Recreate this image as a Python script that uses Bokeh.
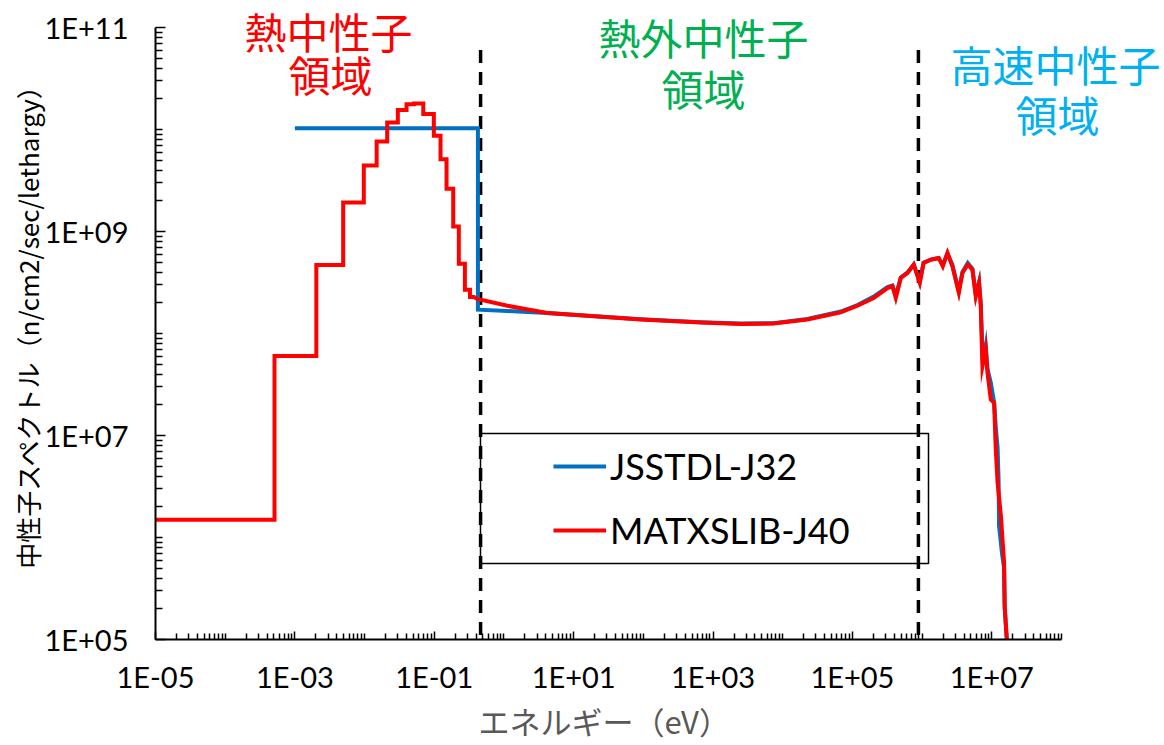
import math
from bokeh.plotting import figure
from bokeh.models import (FixedTicker, CustomJSTickFormatter, Label, Legend,
                          LegendItem, BoxAnnotation, Title)
from bokeh.embed import file_html
from bokeh.resources import INLINE

# ---------------- data ----------------
# MATXSLIB-J40 : thermal group structure (edges in eV) and group flux
red_step_edges = [1e-5, 5.1e-4, 2.03e-3, 4.93e-3, 9.75e-3, 1.49e-2, 2.11e-2, 3.0e-2,
                  4.0e-2, 5.1e-2, 6.95e-2, 9.86e-2, 0.123, 0.150, 0.187, 0.225,
                  0.275, 0.325, 0.37]
red_step_flux = [1.49e6, 6.0e7, 4.7e8, 1.92e9, 4.43e9, 7.6e9, 1.17e10, 1.55e10,
                 1.77e10, 1.80e10, 1.42e10, 8.69e9, 5.1e9, 2.62e9, 1.12e9, 4.83e8,
                 2.69e8, 2.28e8]
# MATXSLIB-J40 : epithermal / fast part
red_energy = [0.414, 1.12, 4.19, 91.4, 665, 2.49e3, 7.4e3, 2.26e4, 6.8e4, 1.18e5,
              2.02e5, 3.18e5, 3.75e5, 4.19e5, 4.94e5, 6.15e5, 7.58e5, 9.25e5, 1.05e6,
              1.33e6, 1.73e6, 1.98e6, 2.31e6, 2.72e6, 3.36e6, 3.79e6, 4.52e6, 5.27e6,
              5.89e6, 6.56e6, 6.94e6, 7.34e6, 8.19e6, 8.67e6, 9.67e6, 1.08e7, 1.14e7,
              1.21e7, 1.35e7, 1.50e7, 1.53e7, 1.68e7]
red_flux = [2.18e8, 1.87e8, 1.59e8, 1.37e8, 1.28e8, 1.24e8, 1.25e8, 1.37e8, 1.61e8,
            1.87e8, 2.23e8, 2.79e8, 2.9e8, 2.23e8, 3.5e8, 3.92e8, 4.72e8, 3.13e8,
            4.91e8, 5.28e8, 5.5e8, 4.55e8, 6.15e8, 4.55e8, 2.51e8, 3.92e8, 4.72e8,
            4.22e8, 2.31e8, 3.13e8, 1.85e8, 4.78e7, 6.97e7, 4.12e7, 2.25e7, 2.09e7,
            7.31e6, 3.45e6, 1.63e6, 5.69e5, 2.14e5, 7.9e4]

# JSSTDL-J32 : one thermal group, then epithermal / fast part
blue_step_edges = [1.0e-3, 0.423]
blue_step_flux = [1.03e10]
blue_energy = [0.423, 1.12, 4.19, 91.4, 665, 2.49e3, 7.4e3, 2.26e4, 6.8e4, 1.18e5,
               2.02e5, 3.18e5, 3.75e5, 4.19e5, 4.94e5, 6.15e5, 7.58e5, 9.25e5, 1.05e6,
               1.33e6, 1.73e6, 1.98e6, 2.31e6, 2.72e6, 3.36e6, 3.79e6, 4.52e6, 5.27e6,
               5.89e6, 6.56e6, 6.94e6, 7.45e6, 8.19e6, 8.67e6, 9.67e6, 1.08e7, 1.14e7,
               1.21e7, 1.25e7, 1.27e7, 1.40e7, 1.50e7, 1.53e7, 1.68e7]
blue_flux = [1.71e8, 1.66e8, 1.59e8, 1.38e8, 1.29e8, 1.25e8, 1.26e8, 1.39e8, 1.64e8,
             1.9e8, 2.3e8, 2.85e8, 2.95e8, 2.35e8, 3.55e8, 3.95e8, 4.75e8, 3.2e8,
             4.95e8, 5.3e8, 5.5e8, 4.7e8, 6.1e8, 4.7e8, 2.6e8, 4.0e8, 4.9e8, 4.3e8,
             2.4e8, 3.2e8, 2.0e8, 5.0e7, 7.5e7, 4.5e7, 3.3e7, 2.1e7, 1.2e7, 7.6e6,
             3.7e6, 1.3e6, 7.0e5, 5.0e5, 2.0e5, 7.9e4]

# region boundaries (dashed lines)
boundary_energy = [0.462, 8.85e5]
boundary_top = [6.0e10, 6.0e10]
boundary_bottom = [1e5, 1e5]

series_names = ["JSSTDL-J32", "MATXSLIB-J40"]
region_line1 = ["熱中性子", "熱外中性子", "高速中性子"]
region_line2 = ["領域", "領域", "領域"]
region_colors = ["#FF0000", "#00B050", "#00B0F0"]
x_title = "エネルギー（eV）"
y_title = "中性子スペクトル（n/cm2/sec/lethargy）"

x_major = [1e-5, 1e-3, 1e-1, 1e1, 1e3, 1e5, 1e7]
y_major = [1e5, 1e7, 1e9, 1e11]
x_axis_span = (1e-5, 1e8)
y_axis_span = (1e5, 1e11)


def step_path(edges, vals):
    xs, ys = [], []
    for i, v in enumerate(vals):
        xs += [edges[i], edges[i + 1]]
        ys += [v, v]
    return xs, ys


rx, ry = step_path(red_step_edges, red_step_flux)
rx += red_energy
ry += red_flux
bx, by = step_path(blue_step_edges, blue_step_flux)
bx += blue_energy
by += blue_flux

# ---------------- layout ----------------
W, H = 1164, 745
AX_L, AX_R, AX_T, AX_B = 155, 1061, 27, 640   # drawn axes extent (px)
# the frame extends to the top and right canvas edges so that the region
# titles are not clipped; the axes themselves are bounded to their spans.
px_dec_x = (AX_R - AX_L) / (math.log10(x_axis_span[1]) - math.log10(x_axis_span[0]))
px_dec_y = (AX_B - AX_T) / (math.log10(y_axis_span[1]) - math.log10(y_axis_span[0]))
x_end = 10 ** (math.log10(x_axis_span[1]) + (W - AX_R) / px_dec_x)
y_end = 10 ** (math.log10(y_axis_span[1]) + AX_T / px_dec_y)

p = figure(width=W, height=H, x_axis_type="log", y_axis_type="log",
           x_range=(x_axis_span[0], x_end), y_range=(y_axis_span[0], y_end),
           output_backend="svg", toolbar_location=None,
           min_border_left=AX_L, min_border_right=0, min_border_top=0,
           min_border_bottom=H - AX_B)
p.outline_line_color = None
p.xgrid.visible = False
p.ygrid.visible = False

x_minor = [k * 10.0 ** d for d in range(-5, 8) for k in range(1, 10)
           if (k * 10.0 ** d) not in x_major] + [1e8]
y_minor = [k * 10.0 ** d for d in range(5, 11) for k in range(1, 10)
           if (k * 10.0 ** d) not in y_major]

fmt = CustomJSTickFormatter(code="""
const e = Math.round(Math.log10(tick));
const a = Math.abs(e);
return "1E" + (e < 0 ? "-" : "+") + (a < 10 ? "0" + a : "" + a);
""")

for ax, ticks, minors, tin, min_in, span in (
        (p.xaxis[0], x_major, x_minor, 8, 6, x_axis_span),
        (p.yaxis[0], y_major, y_minor, 10, 7, y_axis_span)):
    ax.bounds = span
    ax.ticker = FixedTicker(ticks=ticks, minor_ticks=minors)
    ax.formatter = fmt
    ax.axis_line_color = "black"
    ax.axis_line_width = 2
    ax.major_tick_in = tin
    ax.major_tick_out = 0
    ax.minor_tick_in = min_in
    ax.minor_tick_out = 0
    ax.major_tick_line_color = "black"
    ax.minor_tick_line_color = "black"
    ax.major_tick_line_width = 1.5
    ax.minor_tick_line_width = 1.5
    ax.major_label_text_font = "Lato"
    ax.major_label_text_font_size = "29px"
    ax.major_label_text_color = "black"
    ax.axis_label_text_font = "Noto Sans CJK JP"
    ax.axis_label_text_font_style = "normal"

p.xaxis.major_label_standoff = 19
p.yaxis.major_label_standoff = 27
p.yaxis.axis_label = y_title
p.yaxis.axis_label_text_font_size = "26px"
p.yaxis.axis_label_text_color = "black"
p.yaxis.axis_label_standoff = -5

# x-axis title: placed under the axis, aligned to the drawn axis span
p.add_layout(Title(text=x_title, align="left", offset=323, vertical_align="top",
                   standoff=2, text_font="Noto Sans CJK JP", text_font_size="31px",
                   text_font_style="normal", text_color="#595959"), "below")

# boundaries
p.segment(x0=boundary_energy, y0=boundary_top, x1=boundary_energy, y1=boundary_bottom,
          line_color="black", line_width=3.5, line_dash="13 9")

blue = p.line(bx, by, line_color="#0070C0", line_width=4, line_join="miter")
red = p.line(rx, ry, line_color="#FF0000", line_width=4, line_join="miter")

# legend frame and legend (screen px from the frame's bottom-left corner)
p.add_layout(BoxAnnotation(left=325, right=773, bottom=76, top=206,
                           left_units="screen", right_units="screen",
                           bottom_units="screen", top_units="screen",
                           fill_alpha=0, line_color="black", line_alpha=1.0,
                           line_width=1.5))
legend = Legend(items=[LegendItem(label=series_names[0], renderers=[blue]),
                       LegendItem(label=series_names[1], renderers=[red])],
                location=(388, 77), padding=10, spacing=20, margin=0,
                glyph_width=53, glyph_height=44, label_height=44,
                label_standoff=4, label_text_font="Lato",
                label_text_font_size="36px", label_text_color="black",
                border_line_alpha=0, background_fill_alpha=0)
p.add_layout(legend)

# region titles
title_pos = [(173, 609, 175, 566), (548, 603, 548, 552), (900, 576, 902, 526)]
for (t1, t2, c, (x1, y1, x2, y2)) in zip(region_line1, region_line2, region_colors, title_pos):
    for t, x, y in ((t1, x1, y1), (t2, x2, y2)):
        p.add_layout(Label(x=x, y=y, x_units="screen", y_units="screen", text=t,
                           text_align="center", text_baseline="middle",
                           text_font="Noto Sans CJK JP", text_font_size="42px",
                           text_color=c))

open("out.html", "w").write(file_html(p, INLINE))
